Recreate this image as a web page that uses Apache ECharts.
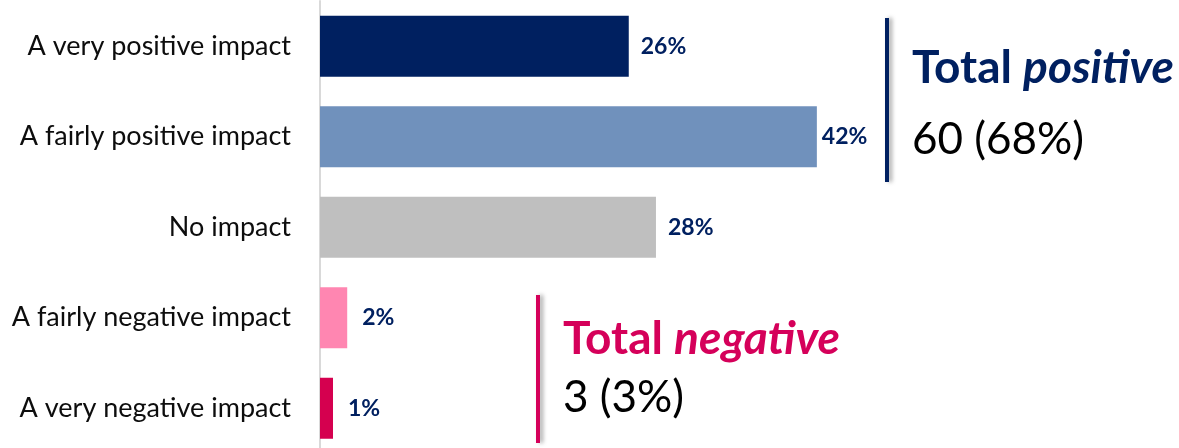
<!DOCTYPE html>
<html>
  <head>
    <meta charset="utf-8">
    <title>Impact</title>
    <style type="text/css">
    html, body {margin:0;padding:0;background:#fff;}
    #chart {width:1179px;height:448px;}
    </style>
    <script src="https://cdn.jsdelivr.net/npm/echarts@6/dist/echarts.min.js"></script>
  </head>
  <body>
    <div id="chart"></div>
    <script type="text/javascript">
      // data
      var categories = ['A very positive impact', 'A fairly positive impact', 'No impact', 'A fairly negative impact', 'A very negative impact'];
      var values = [26.1, 42.0, 28.4, 2.3, 1.1];
      var barColors = ['#002060', '#7091BC', '#BFBFBF', '#FF86B1', '#D5004F'];
      var labelGaps = [12, 5, 12, 15, 15];

      var navy = '#002060';
      var pink = '#D5005A';
      var font = 'Lato, "Open Sans", sans-serif';

      var chart = echarts.init(document.getElementById('chart'));

      var barData = values.map(function (v, i) {
        return {
          value: v,
          itemStyle: {color: barColors[i]},
          label: {distance: labelGaps[i]}
        };
      });

      var option = {
        animation: false,
        grid: {left: 320, top: 1, width: 591.5, height: 452.5, outerBoundsMode: 'none'},
        xAxis: {
          type: 'value', min: 0, max: 50,
          show: false
        },
        yAxis: {
          type: 'category',
          inverse: true,
          data: categories,
          axisLine: {show: true, lineStyle: {color: '#D9D9D9', width: 2}},
          axisTick: {show: false},
          axisLabel: {margin: 29, fontFamily: font, fontSize: 27, color: '#0D0D0D'}
        },
        series: [{
          type: 'bar',
          barWidth: 61,
          data: barData,
          label: {
            show: true,
            position: 'right',
            fontFamily: font,
            fontWeight: 'bold',
            fontSize: 23,
            color: navy,
            formatter: function (p) { return Math.round(p.value) + '%'; }
          }
        }],
        graphic: [
          {
            type: 'line', shape: {x1: 887, y1: 18, x2: 887, y2: 182},
            style: {stroke: navy, lineWidth: 4, shadowColor: 'rgba(0,0,0,0.35)', shadowBlur: 4, shadowOffsetX: 3}
          },
          {
            type: 'text', x: 912, y: 68,
            style: {
              text: '{b|Total }{i|positive}', verticalAlign: 'middle',
              rich: {
                b: {fontFamily: font, fontSize: 46, fontWeight: 'bold', fill: navy},
                i: {fontFamily: font, fontSize: 46, fontWeight: 'bold', fontStyle: 'italic', fill: navy}
              }
            }
          },
          {
            type: 'text', x: 912, y: 140,
            style: {text: '60 (68%)', fontFamily: font, fontSize: 44, fill: '#000', verticalAlign: 'middle'}
          },
          {
            type: 'line', shape: {x1: 538, y1: 295, x2: 538, y2: 443},
            style: {stroke: pink, lineWidth: 4, shadowColor: 'rgba(0,0,0,0.35)', shadowBlur: 4, shadowOffsetX: 3}
          },
          {
            type: 'text', x: 563, y: 339,
            style: {
              text: '{b|Total }{i|negative}', verticalAlign: 'middle',
              rich: {
                b: {fontFamily: font, fontSize: 46, fontWeight: 'bold', fill: pink},
                i: {fontFamily: font, fontSize: 46, fontWeight: 'bold', fontStyle: 'italic', fill: pink}
              }
            }
          },
          {
            type: 'text', x: 563, y: 398,
            style: {text: '3 (3%)', fontFamily: font, fontSize: 44, fill: '#000', verticalAlign: 'middle'}
          }
        ]
      };
      chart.setOption(option);
    </script>
  </body>
</html>
